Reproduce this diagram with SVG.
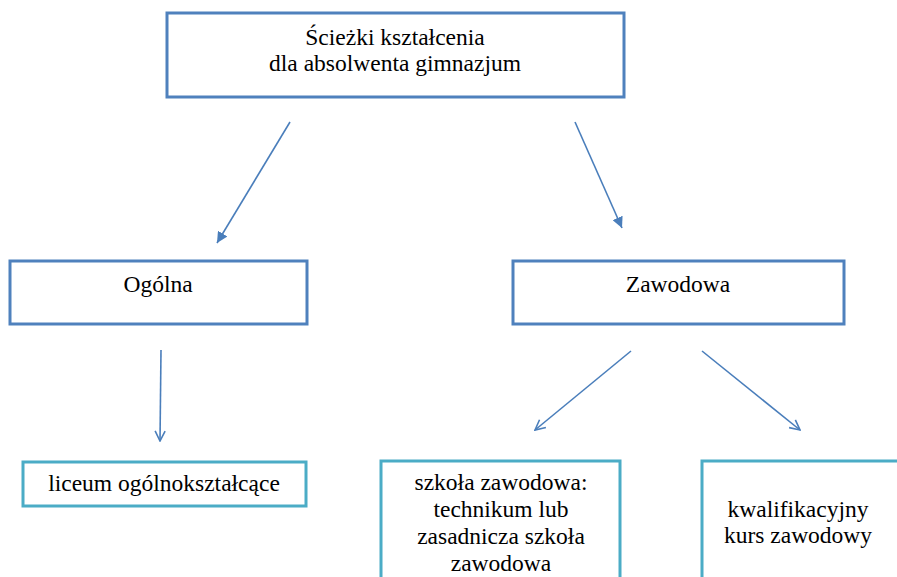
<svg xmlns="http://www.w3.org/2000/svg" width="897" height="577" viewBox="0 0 897 577">
<style>
.blue{fill:#fff;stroke:#4F81BD;stroke-width:3}
.teal{fill:#fff;stroke:#4BACC6;stroke-width:3}
.t{font-size:23.5px;fill:#000;text-anchor:middle}
.c{stroke:#4A7EBB;stroke-width:1.6;fill:none}
</style>
<defs>
<marker id="tri" viewBox="0 0 10 10" refX="10" refY="5" markerWidth="11" markerHeight="11" markerUnits="userSpaceOnUse" orient="auto">
<path d="M0,0 L10,5 L0,10 z" fill="#4A7EBB"/>
</marker>
<marker id="vee" viewBox="0 0 12 12" refX="11" refY="6" markerWidth="12" markerHeight="12" markerUnits="userSpaceOnUse" orient="auto">
<path d="M1,1 L11,6 L1,11" fill="none" stroke="#4A7EBB" stroke-width="1.6"/>
</marker>
</defs>
<rect width="897" height="577" fill="#fff"/>
<g font-family="'Liberation Serif', Tinos, 'Times New Roman', Times, serif">
<g id="root">
<rect class="blue" x="167" y="13" width="457" height="84"/>
<text class="t" x="395" y="45">Ścieżki kształcenia</text>
<text class="t" x="395" y="71">dla absolwenta gimnazjum</text>
</g>
<g id="ogolna">
<rect class="blue" x="10" y="261" width="297" height="63"/>
<text class="t" x="158" y="292">Ogólna</text>
</g>
<g id="zawodowa">
<rect class="blue" x="513" y="261" width="331" height="63"/>
<text class="t" x="678" y="292">Zawodowa</text>
</g>
<g id="liceum">
<rect class="teal" x="23" y="462" width="283" height="44"/>
<text class="t" x="164" y="491">liceum ogólnokształcące</text>
</g>
<g id="szkola">
<rect class="teal" x="381" y="461" width="239" height="130"/>
<text class="t" x="501" y="490">szkoła zawodowa:</text>
<text class="t" x="501" y="517">technikum lub</text>
<text class="t" x="501" y="544">zasadnicza szkoła</text>
<text class="t" x="501" y="571">zawodowa</text>
</g>
<g id="kurs">
<rect class="teal" x="702" y="461" width="210" height="130"/>
<text class="t" x="798" y="517">kwalifikacyjny</text>
<text class="t" x="798" y="543">kurs zawodowy</text>
</g>
</g>
<g id="connectors">
<line class="c" x1="290" y1="122" x2="217" y2="243" marker-end="url(#tri)"/>
<line class="c" x1="575" y1="122" x2="622" y2="228" marker-end="url(#tri)"/>
<line class="c" x1="161" y1="350" x2="160" y2="441" marker-end="url(#vee)"/>
<line class="c" x1="631" y1="351" x2="535" y2="430" marker-end="url(#vee)"/>
<line class="c" x1="702" y1="351" x2="800" y2="430" marker-end="url(#vee)"/>
</g>
</svg>
